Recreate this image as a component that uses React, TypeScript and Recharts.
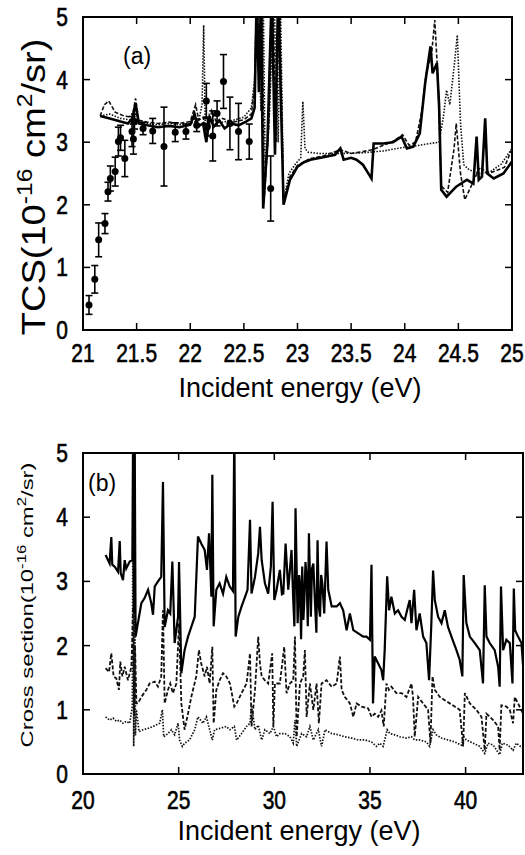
import { ComposedChart, Line, Scatter, ErrorBar, XAxis, YAxis, ReferenceArea } from 'recharts';

const FONT = '"Liberation Sans", Arial, Helvetica, sans-serif';

// ---------- panel (a) ----------
const xTicksA = [21, 21.5, 22, 22.5, 23, 23.5, 24, 24.5, 25];
const yTicks = [0, 1, 2, 3, 4, 5];

// experiment: [energy, tcs, error]
const expA: [number, number, number][] = [
  [21.056, 0.4, 0.15], [21.11, 0.81, 0.22], [21.146, 1.44, 0.27], [21.205, 1.7, 0.16],
  [21.233, 2.21, 0.15], [21.255, 2.42, 0.2], [21.3, 2.53, 0.23], [21.33, 3.01, 0.23],
  [21.35, 3.07, 0.2], [21.39, 2.74, 0.29], [21.457, 3.17, 0.24], [21.47, 3.05, 0.24],
  [21.48, 3.33, 0.12], [21.56, 3.22, 0.1], [21.65, 3.18, 0.2], [21.755, 2.93, 0.63],
  [21.86, 3.16, 0.15], [21.96, 3.17, 0.12], [22.06, 3.27, 0.1], [22.15, 3.66, 0.28],
  [22.16, 3.25, 0.15], [22.21, 3.1, 0.4], [22.25, 3.46, 0.2], [22.31, 3.97, 0.43],
  [22.37, 3.3, 0.42], [22.45, 3.17, 0.45], [22.55, 3.01, 0.28], [22.75, 2.26, 0.52],
];

const solidA: [number, number][] = [
  [21.16, 3.42], [21.25, 3.38], [21.35, 3.33], [21.42, 3.3], [21.46, 3.38], [21.49, 3.62],
  [21.52, 3.3], [21.6, 3.27], [21.7, 3.24], [21.8, 3.26], [21.9, 3.24], [22.0, 3.28],
  [22.04, 3.45], [22.07, 3.25], [22.12, 3.3], [22.15, 3.0], [22.18, 3.4], [22.22, 3.25],
  [22.27, 3.35], [22.32, 3.22], [22.38, 3.3], [22.45, 3.27], [22.52, 3.33], [22.57, 3.38],
  [22.6, 3.55], [22.62, 5.4], [22.64, 3.8], [22.66, 5.4], [22.68, 1.94], [22.72, 3.0],
  [22.76, 5.4], [22.79, 2.8], [22.82, 5.4], [22.87, 2.0], [22.93, 2.4], [23.0, 2.61],
  [23.06, 2.68], [23.12, 2.72], [23.24, 2.76], [23.35, 2.8], [23.4, 2.9], [23.43, 2.72],
  [23.5, 2.75], [23.55, 2.72], [23.61, 2.64], [23.65, 2.53], [23.69, 2.42], [23.71, 2.98],
  [23.8, 2.98], [23.89, 3.0], [23.97, 3.09], [24.02, 2.9], [24.08, 2.93], [24.14, 3.14],
  [24.19, 3.94], [24.24, 4.53], [24.26, 4.1], [24.3, 4.26], [24.32, 3.6], [24.34, 2.24],
  [24.39, 2.13], [24.48, 2.29], [24.58, 2.4], [24.64, 2.34], [24.67, 3.09], [24.69, 2.4],
  [24.72, 2.45], [24.75, 3.38], [24.77, 2.5], [24.83, 2.42], [24.92, 2.5], [25.0, 2.69],
];

const dashedA: [number, number][] = [
  [21.16, 3.42], [21.2, 3.6], [21.24, 3.66], [21.3, 3.48], [21.38, 3.42], [21.46, 3.4],
  [21.49, 3.7], [21.52, 3.35], [21.6, 3.32], [21.7, 3.3], [21.8, 3.32], [21.9, 3.3],
  [22.0, 3.33], [22.05, 3.6], [22.08, 3.35], [22.12, 3.4], [22.16, 3.1], [22.2, 3.5],
  [22.25, 3.3], [22.3, 3.38], [22.4, 3.32], [22.5, 3.36], [22.57, 3.45], [22.6, 3.9],
  [22.62, 5.4], [22.65, 4.0], [22.67, 5.4], [22.69, 2.1], [22.73, 3.2], [22.77, 5.4],
  [22.8, 3.0], [22.83, 5.4], [22.87, 2.05], [22.93, 2.45], [23.0, 2.63], [23.12, 2.74],
  [23.24, 2.78], [23.4, 2.88], [23.5, 2.82], [23.61, 2.85], [23.7, 2.88], [23.8, 2.95],
  [23.9, 3.02], [23.98, 3.12], [24.04, 2.95], [24.1, 3.0], [24.16, 3.5], [24.2, 4.1],
  [24.25, 4.4], [24.28, 4.95], [24.31, 4.0], [24.34, 2.3], [24.4, 2.2], [24.46, 2.9],
  [24.48, 3.3], [24.52, 2.5], [24.56, 2.08], [24.62, 2.3], [24.7, 2.6], [24.78, 2.5],
  [24.86, 2.55], [24.93, 2.6], [25.0, 2.9],
];

const dottedA: [number, number][] = [
  [21.16, 3.42], [21.25, 3.45], [21.35, 3.38], [21.46, 3.35], [21.49, 3.55], [21.52, 3.32],
  [21.6, 3.3], [21.7, 3.28], [21.8, 3.3], [21.9, 3.28], [22.0, 3.3], [22.08, 3.35],
  [22.11, 3.6], [22.125, 4.87], [22.14, 3.3], [22.2, 3.35], [22.3, 3.32], [22.4, 3.35],
  [22.5, 3.4], [22.57, 3.55], [22.6, 4.0], [22.62, 5.4], [22.66, 3.5], [22.68, 5.4],
  [22.7, 2.4], [22.74, 3.5], [22.78, 5.4], [22.82, 3.0], [22.84, 5.4], [22.87, 2.05],
  [22.92, 2.5], [22.98, 2.65], [23.03, 2.75], [23.05, 3.65], [23.07, 2.9], [23.1, 2.84],
  [23.2, 2.82], [23.4, 2.82], [23.6, 2.83], [23.8, 2.86], [24.0, 2.92], [24.1, 2.94],
  [24.2, 2.97], [24.32, 3.0], [24.36, 3.4], [24.39, 3.83], [24.42, 3.6], [24.46, 4.2],
  [24.49, 4.71], [24.52, 3.3], [24.55, 2.64], [24.6, 2.56], [24.7, 2.5], [24.8, 2.53],
  [24.9, 2.65], [25.0, 2.9],
];

// ---------- panel (b) ----------
const xTicksB = [20, 25, 30, 35, 40];

const solidB: [number, number][] = [
  [21.18, 3.41], [21.39, 3.28], [21.48, 3.69], [21.53, 3.26], [21.66, 3.23], [21.83, 3.15],
  [21.92, 3.63], [21.97, 3.13], [22.09, 3.02], [22.18, 3.33], [22.26, 3.2], [22.44, 3.31],
  [22.58, 3.33], [22.62, 5.4], [22.66, 2.5], [22.7, 5.4], [22.75, 2.14], [22.87, 2.35],
  [23.05, 2.66], [23.22, 2.74], [23.4, 2.87], [23.57, 2.66], [23.66, 2.48], [23.75, 2.92],
  [23.92, 3.0], [24.09, 3.07], [24.18, 4.55], [24.27, 2.29], [24.44, 2.55], [24.56, 2.5],
  [24.67, 3.31], [24.79, 2.04], [24.97, 2.45], [25.02, 3.3], [25.14, 1.57], [25.31, 1.93],
  [25.49, 2.14], [25.66, 2.29], [25.84, 2.45], [26.01, 3.7], [26.18, 3.59], [26.36, 3.49],
  [26.48, 3.18], [26.59, 3.75], [26.71, 2.76], [26.76, 4.66], [26.83, 2.3], [26.97, 2.87],
  [27.14, 2.97], [27.32, 2.81], [27.49, 3.07], [27.67, 2.92], [27.84, 2.85], [27.91, 5.4],
  [27.98, 2.14], [28.12, 2.45], [28.29, 2.61], [28.47, 2.76], [28.6, 2.87], [28.73, 3.96],
  [28.81, 2.81], [28.99, 3.07], [29.16, 3.44], [29.25, 3.85], [29.34, 3.33], [29.51, 2.97],
  [29.68, 2.81], [29.82, 3.23], [29.91, 4.24], [30.0, 2.71], [30.12, 2.87], [30.29, 3.18],
  [30.4, 2.8], [30.47, 2.81], [30.59, 3.59], [30.73, 2.87], [30.9, 3.49], [30.99, 2.71],
  [31.05, 2.3], [31.11, 4.14], [31.22, 2.35], [31.3, 3.1], [31.34, 2.97], [31.4, 2.1],
  [31.46, 3.23], [31.52, 2.4], [31.57, 2.71], [31.63, 3.3], [31.69, 3.07], [31.75, 2.3],
  [31.81, 3.75], [31.91, 2.45], [31.97, 3.2], [32.04, 3.28], [32.12, 2.71], [32.2, 2.2],
  [32.26, 3.64], [32.33, 2.6], [32.39, 2.45], [32.45, 3.1], [32.51, 2.97], [32.61, 2.5],
  [32.73, 3.62], [32.82, 2.87], [33.0, 2.61], [33.26, 2.61], [33.43, 2.66], [33.6, 2.55],
  [33.78, 2.24], [33.95, 2.5], [34.13, 2.24], [34.39, 2.19], [34.65, 2.14], [34.82, 2.14],
  [35.0, 2.09], [35.08, 3.26], [35.16, 1.1], [35.25, 1.83], [35.43, 1.72], [35.6, 1.62],
  [35.69, 1.46], [35.77, 1.93], [35.9, 3.08], [36.0, 2.55], [36.12, 2.76], [36.3, 2.5],
  [36.47, 2.55], [36.65, 2.45], [36.82, 2.4], [36.99, 2.61], [37.08, 2.71], [37.17, 2.35],
  [37.31, 2.87], [37.43, 2.24], [37.6, 2.5], [37.78, 2.14], [37.95, 2.04], [38.09, 1.46],
  [38.21, 2.35], [38.3, 3.17], [38.39, 2.71], [38.56, 2.45], [38.74, 2.35], [38.91, 2.55],
  [39.08, 2.29], [39.26, 2.14], [39.52, 1.93], [39.69, 1.78], [39.83, 1.52], [39.9, 3.1],
  [40.04, 2.35], [40.22, 2.14], [40.48, 2.04], [40.74, 1.93], [40.91, 1.41], [41.0, 2.94],
  [41.09, 2.14], [41.26, 2.04], [41.52, 1.93], [41.7, 1.67], [41.78, 1.36], [41.85, 2.92],
  [41.96, 1.93], [42.13, 2.09], [42.31, 2.04], [42.45, 1.41], [42.52, 2.89], [42.59, 2.24],
  [42.74, 2.14], [42.92, 2.04], [43.0, 1.7],
];

const dashedB: [number, number][] = [
  [21.18, 1.65], [21.36, 1.59], [21.48, 1.88], [21.6, 1.52], [21.74, 1.49], [21.88, 1.31],
  [21.95, 1.75], [22.06, 1.52], [22.18, 1.67], [22.35, 1.46], [22.53, 1.67], [22.62, 2.6],
  [22.68, 0.9], [22.72, 2.0], [22.79, 1.1], [22.87, 1.1], [23.05, 1.2], [23.31, 1.31],
  [23.48, 1.41], [23.75, 1.44], [23.92, 1.36], [24.09, 1.52], [24.18, 2.55], [24.27, 1.1],
  [24.44, 1.31], [24.56, 1.41], [24.7, 1.26], [24.88, 1.41], [25.02, 2.35], [25.14, 1.1],
  [25.31, 0.69], [25.49, 0.94], [25.66, 1.2], [25.92, 1.52], [26.06, 1.93], [26.18, 1.72],
  [26.36, 1.52], [26.48, 1.67], [26.62, 1.41], [26.76, 1.98], [26.83, 0.79], [26.97, 1.31],
  [27.14, 1.46], [27.32, 1.57], [27.49, 1.52], [27.68, 1.41], [27.91, 1.05], [28.03, 1.1],
  [28.29, 1.26], [28.55, 1.41], [28.73, 1.88], [28.81, 0.74], [28.99, 1.31], [29.16, 2.14],
  [29.25, 1.72], [29.34, 1.52], [29.51, 1.46], [29.68, 1.41], [29.89, 1.88], [29.95, 0.74],
  [30.03, 1.41], [30.29, 1.41], [30.52, 1.98], [30.64, 1.26], [30.82, 1.41], [30.99, 1.46],
  [31.08, 2.14], [31.17, 0.58], [31.34, 1.41], [31.51, 1.52], [31.6, 1.93], [31.69, 0.89],
  [31.86, 1.41], [32.04, 1.0], [32.21, 1.41], [32.33, 0.79], [32.47, 1.41], [32.73, 1.46],
  [33.0, 1.36], [33.26, 1.41], [33.43, 1.83], [33.52, 1.31], [33.69, 1.2], [33.95, 1.1],
  [34.13, 0.89], [34.3, 1.1], [34.56, 1.05], [34.91, 1.02], [35.08, 0.89], [35.25, 0.94],
  [35.43, 0.89], [35.6, 0.99], [35.72, 0.74], [35.86, 1.41], [35.99, 1.31], [36.12, 1.36],
  [36.38, 1.26], [36.65, 1.26], [36.91, 1.2], [37.17, 1.41], [37.25, 1.2], [37.34, 0.58],
  [37.52, 1.2], [37.78, 1.1], [38.04, 1.0], [38.16, 0.48], [38.27, 1.52], [38.39, 1.31],
  [38.65, 1.2], [38.91, 1.15], [39.17, 1.1], [39.43, 1.05], [39.69, 1.0], [39.87, 0.43],
  [39.96, 1.26], [40.22, 1.1], [40.56, 1.0], [40.83, 0.89], [41.0, 0.37], [41.09, 0.94],
  [41.44, 0.84], [41.7, 0.74], [41.78, 0.37], [41.87, 1.07], [42.13, 1.05], [42.31, 1.0],
  [42.48, 0.79], [42.57, 1.2], [42.74, 1.1], [43.0, 0.94],
];

const dottedB: [number, number][] = [
  [21.18, 0.89], [21.39, 0.84], [21.57, 0.87], [21.74, 0.82], [21.92, 0.84], [22.09, 0.79],
  [22.26, 0.82], [22.44, 0.79], [22.58, 1.05], [22.62, 5.4], [22.65, 0.43], [22.7, 5.4],
  [22.74, 0.6], [22.79, 1.0], [22.93, 0.66], [23.14, 0.69], [23.4, 0.71], [23.66, 0.74],
  [24.01, 0.79], [24.15, 1.0], [24.22, 0.58], [24.44, 0.63], [24.62, 0.69], [24.79, 0.61],
  [24.97, 0.79], [25.05, 0.53], [25.19, 0.43], [25.31, 0.48], [25.57, 0.53], [25.84, 0.69],
  [26.01, 0.89], [26.27, 0.79], [26.45, 0.89], [26.62, 0.69], [26.76, 0.53], [26.88, 0.69],
  [27.14, 0.71], [27.49, 0.74], [27.68, 0.69], [27.91, 0.74], [28.03, 0.53], [28.29, 0.63],
  [28.55, 0.74], [28.73, 0.79], [28.81, 1.07], [28.99, 0.69], [29.16, 0.76], [29.34, 0.53],
  [29.51, 0.69], [29.77, 0.63], [29.95, 0.74], [30.12, 0.58], [30.29, 0.63], [30.56, 0.63],
  [30.82, 0.58], [30.99, 0.48], [31.08, 0.84], [31.17, 0.43], [31.43, 0.63], [31.69, 0.58],
  [31.86, 0.74], [32.04, 0.53], [32.3, 0.69], [32.47, 0.43], [32.65, 0.69], [33.0, 0.63],
  [33.35, 0.61], [33.69, 0.58], [34.04, 0.56], [34.39, 0.53], [34.74, 0.53], [35.08, 0.5],
  [35.16, 0.48], [35.34, 0.43], [35.51, 0.48], [35.69, 0.43], [35.9, 0.69], [36.04, 0.63],
  [36.3, 0.61], [36.56, 0.58], [36.91, 0.56], [37.17, 0.58], [37.34, 0.53], [37.6, 0.53],
  [37.95, 0.5], [38.12, 0.43], [38.3, 0.69], [38.47, 0.61], [38.74, 0.56], [39.08, 0.53],
  [39.43, 0.5], [39.78, 0.45], [39.9, 0.58], [40.04, 0.53], [40.39, 0.48], [40.74, 0.43],
  [41.0, 0.32], [41.17, 0.48], [41.44, 0.45], [41.78, 0.3], [41.92, 0.48], [42.22, 0.45],
  [42.48, 0.37], [42.65, 0.48], [43.0, 0.4],
];

const pts = (arr: [number, number][]) => arr.map(([x, y]) => ({ x, y }));
const expPts = expA.map(([x, y, e]) => ({ x, y, e }));

// bottom tick: inward tick at the bottom and a matching one on the top edge (h = plot height)
function BottomTick({ x, y, payload, off, h }: any) {
  return (
    <g>
      <line x1={x} y1={y} x2={x} y2={y - 7} stroke="#000" strokeWidth={1.5} />
      <line x1={x} y1={y - h} x2={x} y2={y - h + 7} stroke="#000" strokeWidth={1.5} />
      <text
        transform={`translate(${x},${y + off}) scale(1,1.2)`}
        textAnchor="middle"
        fontSize={21}
        fontFamily={FONT}
        fill="#000"
        stroke="#000"
        strokeWidth={0.5}
      >
        {payload.value}
      </text>
    </g>
  );
}

// left tick: inward tick on the left and a matching one on the right edge (w = plot width)
function LeftTick({ x, y, payload, w }: any) {
  return (
    <g>
      <line x1={x} y1={y} x2={x + 7} y2={y} stroke="#000" strokeWidth={1.5} />
      <line x1={x + w} y1={y} x2={x + w - 7} y2={y} stroke="#000" strokeWidth={1.5} />
      <text
        transform={`translate(${x - 15},${y + 9}) scale(1,1.2)`}
        textAnchor="end"
        fontSize={21}
        fontFamily={FONT}
        fill="#000"
        stroke="#000"
        strokeWidth={0.5}
      >
        {payload.value}
      </text>
    </g>
  );
}

const axesFor = (domain: [number, number], ticks: number[], off: number, w: number, h: number) => [
  <XAxis
    key="xb"
    type="number"
    dataKey="x"
    domain={domain}
    ticks={ticks}
    allowDataOverflow
    height={40}
    tickLine={false}
    tickSize={0}
    tickMargin={0}
    axisLine={false}
    tick={(p: any) => <BottomTick {...p} off={off} h={h} />}
  />,
  <YAxis
    key="yl"
    type="number"
    domain={[0, 5]}
    ticks={yTicks}
    allowDataOverflow
    width={50}
    tickLine={false}
    tickSize={0}
    tickMargin={0}
    axisLine={false}
    tick={(p: any) => <LeftTick {...p} w={w} />}
  />,
  <ReferenceArea
    key="box"
    x1={domain[0]}
    x2={domain[1]}
    y1={0}
    y2={5}
    fill="none"
    fillOpacity={0}
    stroke="#000"
    strokeWidth={2}
    ifOverflow="visible"
  />,
];

export default function App() {
  return (
    <div style={{ position: 'absolute', left: 0, top: 0, width: 525, height: 855, background: '#fff' }}>
      <div style={{ position: 'absolute', left: 0, top: 0 }}>
        <ComposedChart width={525} height={400} margin={{ top: 17, right: 13, bottom: 30, left: 33 }}>
          {axesFor([21, 25], xTicksA, 32, 429, 313)}
          <Line data={pts(dottedA)} dataKey="y" stroke="#111" strokeWidth={1.6} strokeDasharray="1.5 1.5" dot={false} isAnimationActive={false} />
          <Line data={pts(dashedA)} dataKey="y" stroke="#111" strokeWidth={1.6} strokeDasharray="4 2" dot={false} isAnimationActive={false} />
          <Line data={pts(solidA)} dataKey="y" stroke="#000" strokeWidth={2.6} dot={false} isAnimationActive={false} />
          <Scatter
            data={expPts}
            dataKey="y"
            isAnimationActive={false}
            shape={(p: any) => <circle cx={p.cx} cy={p.cy} r={3.5} fill="#000" />}
          >
            <ErrorBar dataKey="e" direction="y" width={3.5} stroke="#000" strokeWidth={1.6} />
          </Scatter>
        </ComposedChart>
      </div>
      <div style={{ position: 'absolute', left: 0, top: 400 }}>
        <ComposedChart width={525} height={455} margin={{ top: 53, right: 2, bottom: 41, left: 33 }}>
          {axesFor([20, 43], xTicksB, 35, 440, 321)}
          <Line data={pts(dottedB)} dataKey="y" stroke="#111" strokeWidth={1.7} strokeDasharray="1.5 1.5" dot={false} isAnimationActive={false} />
          <Line data={pts(dashedB)} dataKey="y" stroke="#111" strokeWidth={1.8} strokeDasharray="4 2" dot={false} isAnimationActive={false} />
          <Line data={pts(solidB)} dataKey="y" stroke="#000" strokeWidth={2.2} dot={false} isAnimationActive={false} />
        </ComposedChart>
      </div>
      <svg width={525} height={855} style={{ position: 'absolute', left: 0, top: 0, pointerEvents: 'none' }} fontFamily={FONT}>
        <text x={123} y={64} fontSize={23} fill="#000">(a)</text>
        <text x={88} y={491} fontSize={23} fill="#000">(b)</text>
        <text x={300} y={397} fontSize={27} textAnchor="middle" fill="#000">Incident energy (eV)</text>
        <text x={299} y={840} fontSize={27} textAnchor="middle" fill="#000">Incident energy (eV)</text>
        <text transform="translate(45,187) rotate(-90) scale(1.12,1)" fontSize={34} textAnchor="middle" fill="#000">
          TCS(10<tspan dy={-13} fontSize={22}>-16</tspan>
          <tspan dy={13}> cm</tspan>
          <tspan dy={-13} fontSize={22}>2</tspan>
          <tspan dy={13}>/sr)</tspan>
        </text>
        <text transform="translate(33,605) rotate(-90) scale(1.4,1)" fontSize={17} textAnchor="middle" fill="#000">
          Cross section(10<tspan dy={-7} fontSize={12}>-16</tspan>
          <tspan dy={7}> cm</tspan>
          <tspan dy={-7} fontSize={12}>2</tspan>
          <tspan dy={7}>/sr)</tspan>
        </text>
      </svg>
    </div>
  );
}
